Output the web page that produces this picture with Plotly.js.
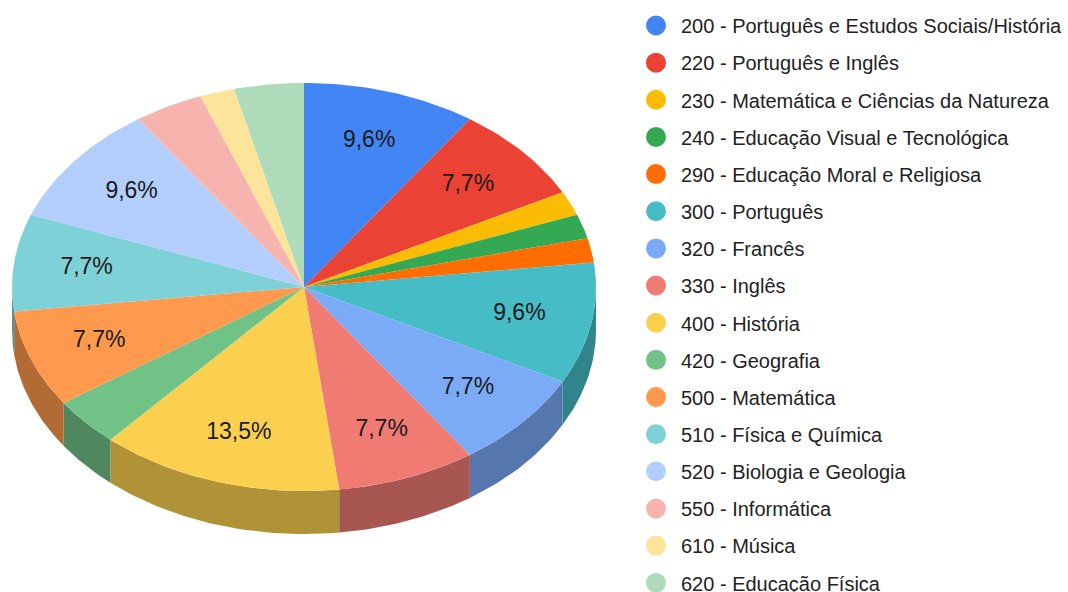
<!DOCTYPE html>
<html>
<head>
<meta charset="utf-8">
<script src="https://cdn.plot.ly/plotly-3.0.1.min.js"></script>
<style>html,body{margin:0;padding:0;background:#fff;}#chart{width:1068px;height:592px;}</style>
</head>
<body>
<div id="chart"></div>
<script>
// ---- data ----
const categories = [
  "200 - Português e Estudos Sociais/História",
  "220 - Português e Inglês",
  "230 - Matemática e Ciências da Natureza",
  "240 - Educação Visual e Tecnológica",
  "290 - Educação Moral e Religiosa",
  "300 - Português",
  "320 - Francês",
  "330 - Inglês",
  "400 - História",
  "420 - Geografia",
  "500 - Matemática",
  "510 - Física e Química",
  "520 - Biologia e Geologia",
  "550 - Informática",
  "610 - Música",
  "620 - Educação Física"
];
const counts = [5, 4, 1, 1, 1, 5, 4, 4, 7, 2, 4, 4, 5, 2, 1, 2];
const colors = [
  "#4285F4", "#EA4335", "#FBBC04", "#34A853", "#FF6D01", "#46BDC6",
  "#7BAAF7", "#F07B72", "#FCD04F", "#71C287", "#FF994D", "#7ED1D7",
  "#B3CEFB", "#F7B4AE", "#FDE49B", "#AEDCBA"
];

// ---- geometry (pixel-space axes) ----
const W = 1068, H = 592;
const CX = 304, CY = 287, RX = 292, RY = 204, DEPTH = 43;
const LABEL_R = 0.75;

function darken(hex, f) {
  const n = parseInt(hex.slice(1), 16);
  const r = Math.round(((n >> 16) & 255) * f);
  const g = Math.round(((n >> 8) & 255) * f);
  const b = Math.round((n & 255) * f);
  return `rgb(${r},${g},${b})`;
}
function pt(theta, dz, rf) {
  rf = rf === undefined ? 1 : rf;
  return [CX + RX * rf * Math.sin(theta), CY - RY * rf * Math.cos(theta) + dz];
}
function arc(a, b, dz) {
  const n = Math.max(2, Math.ceil((b - a) / (Math.PI / 180)));
  const out = [];
  for (let i = 0; i <= n; i++) out.push(pt(a + (b - a) * i / n, dz));
  return out;
}

const total = counts.reduce((s, v) => s + v, 0);
const angles = [];
let acc = 0;
counts.forEach(v => {
  const a = acc / total * 2 * Math.PI;
  acc += v;
  const b = acc / total * 2 * Math.PI;
  angles.push([a, b]);
});

const traces = [];
// side walls (front half only)
angles.forEach(([a, b], i) => {
  const s = Math.max(a, Math.PI / 2), e = Math.min(b, 3 * Math.PI / 2);
  if (s >= e) return;
  const top = arc(s, e, 0);
  const bot = arc(s, e, DEPTH).reverse();
  const poly = top.concat(bot);
  poly.push(top[0]);
  traces.push({
    type: "scatter", mode: "lines", fill: "toself",
    x: poly.map(p => p[0]), y: poly.map(p => p[1]),
    line: { width: 0, color: darken(colors[i], 0.7) },
    fillcolor: darken(colors[i], 0.7),
    showlegend: false, hoverinfo: "skip"
  });
});
// top faces
angles.forEach(([a, b], i) => {
  const poly = [[CX, CY]].concat(arc(a, b, 0));
  poly.push([CX, CY]);
  traces.push({
    type: "scatter", mode: "lines", fill: "toself",
    x: poly.map(p => p[0]), y: poly.map(p => p[1]),
    line: { width: 0, color: colors[i] },
    fillcolor: colors[i],
    showlegend: false, hoverinfo: "skip"
  });
});
// percentage labels
const lx = [], ly = [], lt = [];
angles.forEach(([a, b], i) => {
  const frac = counts[i] / total;
  if (frac < 0.05) return;
  const p = pt((a + b) / 2, 0, LABEL_R);
  lx.push(p[0]); ly.push(p[1]);
  lt.push((frac * 100).toFixed(1).replace(".", ",") + "%");
});
traces.push({
  type: "scatter", mode: "text", x: lx, y: ly, text: lt,
  textposition: "middle center",
  textfont: { family: "Liberation Sans, Arial, sans-serif", size: 23, color: "#1a1a1a" },
  showlegend: false, hoverinfo: "skip"
});
// legend entries
categories.forEach((c, i) => {
  traces.push({
    type: "scatter", mode: "markers", x: [null], y: [null], name: c,
    legendgroup: "g" + i,
    marker: { symbol: "circle", size: 16, color: colors[i], line: { width: 4, color: colors[i] } },
    showlegend: true, hoverinfo: "skip"
  });
});

const layout = {
  width: W, height: H,
  margin: { l: 0, r: 0, t: 0, b: 0, autoexpand: false },
  paper_bgcolor: "#ffffff", plot_bgcolor: "#ffffff",
  hovermode: false,
  xaxis: { range: [0, W], visible: false, fixedrange: true },
  yaxis: { range: [H, 0], visible: false, fixedrange: true },
  showlegend: true,
  legend: {
    x: 631 / W, xanchor: "left", y: 1 - 6 / H, yanchor: "top",
    font: { family: "Liberation Sans, Arial, sans-serif", size: 20, color: "#222222" },
    tracegroupgap: 8.15, traceorder: "grouped", itemwidth: 40,
    bgcolor: "rgba(0,0,0,0)", borderwidth: 0,
    maxheight: 800
  }
};

Plotly.newPlot("chart", traces, layout, { staticPlot: true, displayModeBar: false });
</script>
</body>
</html>
